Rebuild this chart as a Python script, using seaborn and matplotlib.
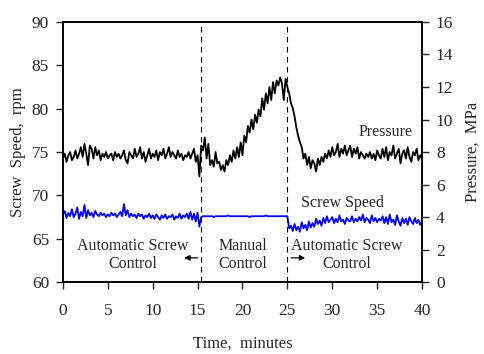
import numpy as np
import pandas as pd
import matplotlib
matplotlib.use('Agg')
import matplotlib.pyplot as plt
import seaborn as sns

# time grid, one reading every 0.2 minutes
time_min = np.round(np.arange(0, 40.01, 0.2), 1)

# pressure (MPa)
pressure_mpa = [
    7.6, 7.9, 7.4, 7.8, 8.0, 7.5, 7.7, 8.1, 7.6, 7.9,
    8.3, 7.7, 8.5, 7.9, 7.2, 8.4, 8.2, 7.6, 8.3, 7.8,
    8.1, 7.5, 7.9, 7.7, 8.0, 7.6, 7.8, 7.9, 7.5, 8.0,
    7.7, 7.9, 7.6, 7.8, 8.1, 7.5, 7.3, 8.0, 7.8, 7.6,
    8.2, 7.7, 7.9, 8.3, 7.6, 8.0, 7.4, 7.8, 8.2, 7.6,
    7.9, 7.7, 8.1, 7.5, 8.0, 7.8, 8.2, 7.6, 7.9, 8.3,
    7.7, 8.0, 7.8, 7.6, 8.1, 7.7, 7.9, 7.5, 7.8, 7.7,
    8.0, 7.6, 7.9, 8.2, 7.4, 7.8, 6.5, 8.4, 8.1, 8.9,
    7.6, 8.5, 7.2, 7.5, 7.1, 8.0, 7.3, 7.4, 6.9, 7.2,
    6.8, 7.5, 7.2, 7.8, 7.4, 8.1, 7.6, 8.3, 7.7, 8.6,
    7.8, 9.0, 8.6, 9.6, 9.2, 10.0, 9.4, 10.3, 9.8, 10.6,
    10.2, 11.3, 10.6, 11.6, 11.0, 12.0, 11.2, 12.3, 11.6, 12.4,
    12.1, 12.6, 12.2, 11.2, 12.5, 12.0, 11.6, 11.0, 10.7, 10.2,
    9.5, 9.0, 8.6, 8.3, 7.6, 7.9, 7.2, 7.7, 7.0, 7.5,
    7.3, 6.8, 7.6, 7.2, 7.7, 7.4, 7.9, 7.6, 8.1, 7.7,
    8.3, 7.8, 8.0, 8.5, 7.7, 8.2, 7.9, 8.4, 7.8, 8.1,
    8.4, 7.7, 8.2, 7.9, 8.3, 7.6, 8.0, 7.8, 7.6, 7.9,
    7.7, 8.0, 7.6, 7.9, 7.5, 8.1, 7.8, 7.6, 8.2, 7.7,
    8.3, 7.5, 8.0, 7.8, 8.4, 7.6, 7.9, 8.2, 7.3, 7.9,
    8.1, 7.6, 8.3, 7.7, 7.4, 8.0, 7.8, 8.2, 7.5, 7.8, 7.6,
]

# screw speed (rpm)
screw_rpm = [
    67.8, 68.2, 67.4, 68.0, 67.6, 68.4, 67.5, 67.9, 68.6, 67.3,
    68.1, 67.6, 68.9, 67.4, 68.3, 67.7, 68.0, 67.5, 68.2, 67.8,
    67.6, 68.0, 67.7, 67.9, 67.5, 67.8, 67.6, 68.0, 67.7, 67.9,
    67.5, 67.8, 68.1, 67.6, 69.0, 67.7, 68.3, 67.5, 67.9, 67.6,
    67.8, 67.4, 67.9, 67.6, 67.8, 67.3, 67.7, 67.5, 67.9, 67.4,
    67.7, 67.3, 67.8, 67.5, 67.2, 67.7, 67.4, 67.8, 67.3, 67.6,
    67.5, 67.8, 67.2, 67.6, 67.4, 67.9, 67.3, 67.7, 67.5, 67.9,
    67.3, 68.1, 67.2, 67.9, 67.0, 68.0, 66.4, 67.5, 67.6, 67.6,
    67.6, 67.6, 67.6, 67.6, 67.5, 67.6, 67.6, 67.6, 67.6, 67.6,
    67.6, 67.6, 67.7, 67.6, 67.6, 67.6, 67.6, 67.6, 67.6, 67.6,
    67.6, 67.6, 67.6, 67.6, 67.5, 67.6, 67.6, 67.6, 67.6, 67.6,
    67.6, 67.6, 67.6, 67.7, 67.6, 67.6, 67.6, 67.6, 67.6, 67.6,
    67.6, 67.6, 67.6, 67.6, 67.6, 67.6, 66.2, 66.5, 65.9, 66.7,
    66.0, 66.4, 65.8, 66.9, 66.2, 66.6, 66.0, 67.0, 66.3, 66.8,
    66.4, 67.3, 66.7, 67.1, 66.5, 67.4, 66.8, 67.6, 66.9, 67.2,
    67.5, 66.8, 67.3, 66.9, 67.7, 67.0, 67.2, 66.7, 67.4, 67.1,
    67.0, 67.6, 66.9, 67.3, 67.0, 67.5, 67.1, 67.8, 66.9, 67.4,
    67.2, 66.8, 67.7, 67.0, 67.4, 66.9, 67.3, 67.1, 67.6, 66.8,
    67.5, 66.7, 67.8, 66.9, 67.2, 66.6, 67.7, 67.0, 66.5, 67.4,
    66.8, 67.3, 66.6, 67.5, 67.0, 66.7, 67.4, 66.8, 67.2, 66.6, 67.0,
]

# switch-over times between control modes
switch_times = [15.4, 25.0]

df = pd.DataFrame({'time': time_min, 'pressure': pressure_mpa, 'speed': screw_rpm})

sns.set_style('ticks')
plt.rcParams['font.family'] = ['Liberation Serif', 'DejaVu Serif']
plt.rcParams['font.size'] = 12

fig = plt.figure(figsize=(4.84, 3.54), dpi=100)
ax = fig.add_axes([0.130, 0.203, 0.742, 0.735])
ax2 = ax.twinx()

# screw speed on the left axis
sns.lineplot(data=df, x='time', y='speed', ax=ax, color='#0000ff', linewidth=1.3)
# pressure on the right axis
sns.lineplot(data=df, x='time', y='pressure', ax=ax2, color='black', linewidth=1.3)

for t in switch_times:
    ax.axvline(t, color='black', linestyle=(0, (5, 4)), linewidth=0.8)

ax.set_xlim(0, 40)
ax.set_ylim(60, 90)
ax2.set_ylim(0, 16)
ax.set_xticks(range(0, 41, 5))
ax.set_yticks(range(60, 91, 5))
ax2.set_yticks(range(0, 17, 2))

ax.set_xlabel('Time,  minutes', fontsize=12, labelpad=12)
ax.set_ylabel('Screw  Speed,  rpm', fontsize=12, labelpad=4)
ax2.set_ylabel('Pressure,  MPa', fontsize=12, labelpad=8)

for a in (ax, ax2):
    a.tick_params(direction='out', length=5, width=1, labelsize=12.5, pad=5)
    for s in a.spines.values():
        s.set_linewidth(1.2)
        s.set_color('black')
ax.tick_params(axis='x', pad=10)

# annotations
ax.text(35.9, 77.3, 'Pressure', ha='center', va='center', fontsize=11.5)
ax.text(31.1, 69.1, 'Screw Speed', ha='center', va='center', fontsize=11.5)
ax.text(7.8, 63.1, 'Automatic Screw\nControl', ha='center', va='center',
        fontsize=11.5, linespacing=1.15)
ax.text(20.0, 63.1, 'Manual\nControl', ha='center', va='center',
        fontsize=11.5, linespacing=1.15)
ax.text(31.6, 63.1, 'Automatic Screw\nControl', ha='center', va='center',
        fontsize=11.5, linespacing=1.15)
ax.annotate('', xy=(13.2, 62.8), xytext=(15.3, 62.8),
            arrowprops=dict(arrowstyle='-|>', color='black', lw=0.9,
                            mutation_scale=8))
ax.annotate('', xy=(27.3, 62.8), xytext=(25.1, 62.8),
            arrowprops=dict(arrowstyle='-|>', color='black', lw=0.9,
                            mutation_scale=8))

fig.savefig('out.png', dpi=100)
